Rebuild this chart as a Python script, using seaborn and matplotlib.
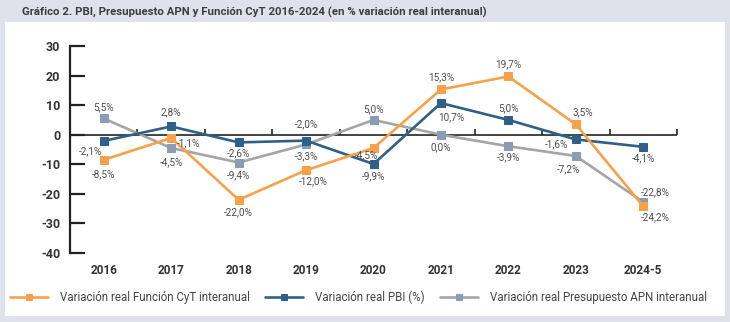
import matplotlib
matplotlib.use("Agg")
import matplotlib.pyplot as plt
import seaborn as sns
import pandas as pd
from matplotlib.patches import Rectangle

years = ["2016", "2017", "2018", "2019", "2020", "2021", "2022", "2023", "2024-5"]
cyt = [-8.5, -1.1, -22.0, -12.0, -4.5, 15.3, 19.7, 3.5, -24.2]
pbi = [-2.1, 2.8, -2.6, -2.0, -9.9, 10.7, 5.0, -1.6, -4.1]
apn = [5.5, -4.5, -9.4, -3.3, 5.0, 0.0, -3.9, -7.2, -22.8]
y_ticks = [-40, -30, -20, -10, 0, 10, 20, 30]

names = ["Variación real Función CyT interanual",
         "Variación real PBI (%)",
         "Variación real Presupuesto APN interanual"]

# label placement (offset of label centre, in pixels) per point
A = (0, 12)
cyt_pos = [(0, -14), (17, -5), (0, -12), (7, -11), (-7, -7), A, A, (7, 12), (12, -11)]
pbi_pos = [(-13, -10), (0, 14), (0, -11), (0, 16), (0, -12), (10, -14), A, (-19, -5), (0, -11)]
apn_pos = [(0, 11), (0, -14), (0, -13), (0, -12), (0, 11), (0, -12), (0, -11), (-7, -13), (12, 10)]

sns.set_theme(style="white")
plt.rcParams["font.family"] = ["Roboto", "DejaVu Sans"]

fig = plt.figure(figsize=(7.3, 3.22), dpi=100)
fig.patch.set_facecolor("#dfe2ea")
fig.patches.append(Rectangle((5 / 730, 6 / 322), 720 / 730, 294 / 322,
                             transform=fig.transFigure, facecolor="white",
                             edgecolor="none", zorder=-10))
fig.text(22 / 730, 1 - 12 / 322,
         "Gráfico 2. PBI, Presupuesto APN y Función CyT 2016-2024 (en % variación real interanual)",
         fontsize=8.2, fontweight="bold", color="#3d3d3d", va="center", ha="left")

ax = fig.add_axes([70 / 730, 69 / 322, 607 / 730, 207 / 322])
ax.set_facecolor("none")
ax.set_zorder(5)

series = [
    (apn, names[2], "#a5a5a5", "#8c9cb8", apn_pos),
    (pbi, names[1], "#2f6088", "#2f6088", pbi_pos),
    (cyt, names[0], "#f7a24a", "#f7a24a", cyt_pos),
]
for vals, name, lc, mc, pos in series:
    df = pd.DataFrame({"x": range(len(years)), "y": vals})
    sns.lineplot(data=df, x="x", y="y", ax=ax, color=lc, linewidth=1.9,
                 marker="s", markersize=5.5, markerfacecolor=mc,
                 markeredgecolor=mc, label=name, zorder=3)
    for i, v in enumerate(vals):
        dx, dy = pos[i]
        ax.annotate(f"{v:.1f}".replace(".", ",") + "%", (i, v),
                    xytext=(dx, dy), textcoords="offset pixels",
                    ha="center", va="center",
                    fontsize=7.2, color="#4d4d4d", zorder=5)

ax.set_xlim(-0.5, len(years) - 0.5)
ax.set_ylim(y_ticks[0], y_ticks[-1])
ax.set_yticks(y_ticks)
ax.set_yticklabels([str(t) for t in y_ticks], fontsize=9, fontweight="bold", color="#333333")
ax.set_xticks(range(len(years)))
ax.set_xticklabels(years, fontsize=8.5, fontweight="bold", color="#333333")
ax.set_xlabel("")
ax.set_ylabel("")
for s in ["top", "right", "bottom"]:
    ax.spines[s].set_visible(False)
ax.spines["left"].set_color("#222222")
ax.spines["left"].set_linewidth(1.6)
ax.tick_params(axis="y", direction="in", length=11, width=1.6, color="#222222", pad=7, left=True)
ax.tick_params(axis="x", length=0, pad=8)

# zero line with boundary ticks
ax.axhline(0, color="#222222", linewidth=1.2, zorder=2)
zero_frac = (0 - y_ticks[0]) / (y_ticks[-1] - y_ticks[0])
sec = ax.secondary_xaxis(zero_frac)
sec.set_xticks([i + 0.5 for i in range(len(years))])
sec.set_xticklabels([])
sec.tick_params(axis="x", direction="out", length=4, width=1.2, color="#222222", pad=0)
sec.spines["top"].set_visible(False)
sec.spines["bottom"].set_visible(False)

handles, labels = ax.get_legend_handles_labels()
order = [labels.index(n) for n in names]
handles = [handles[i] for i in order]
labels = [labels[i] for i in order]
if ax.get_legend() is not None:
    ax.get_legend().remove()
fig.legend(handles, labels, loc="center left", bbox_to_anchor=(10 / 730, 1 - 297 / 322),
           ncol=3, frameon=False, fontsize=8.3, handlelength=3.3, columnspacing=1.3,
           handletextpad=1.05, labelcolor="#444444", markerscale=0.8,
           borderpad=0, borderaxespad=0)

fig.savefig("out.png", dpi=100, facecolor=fig.get_facecolor())
